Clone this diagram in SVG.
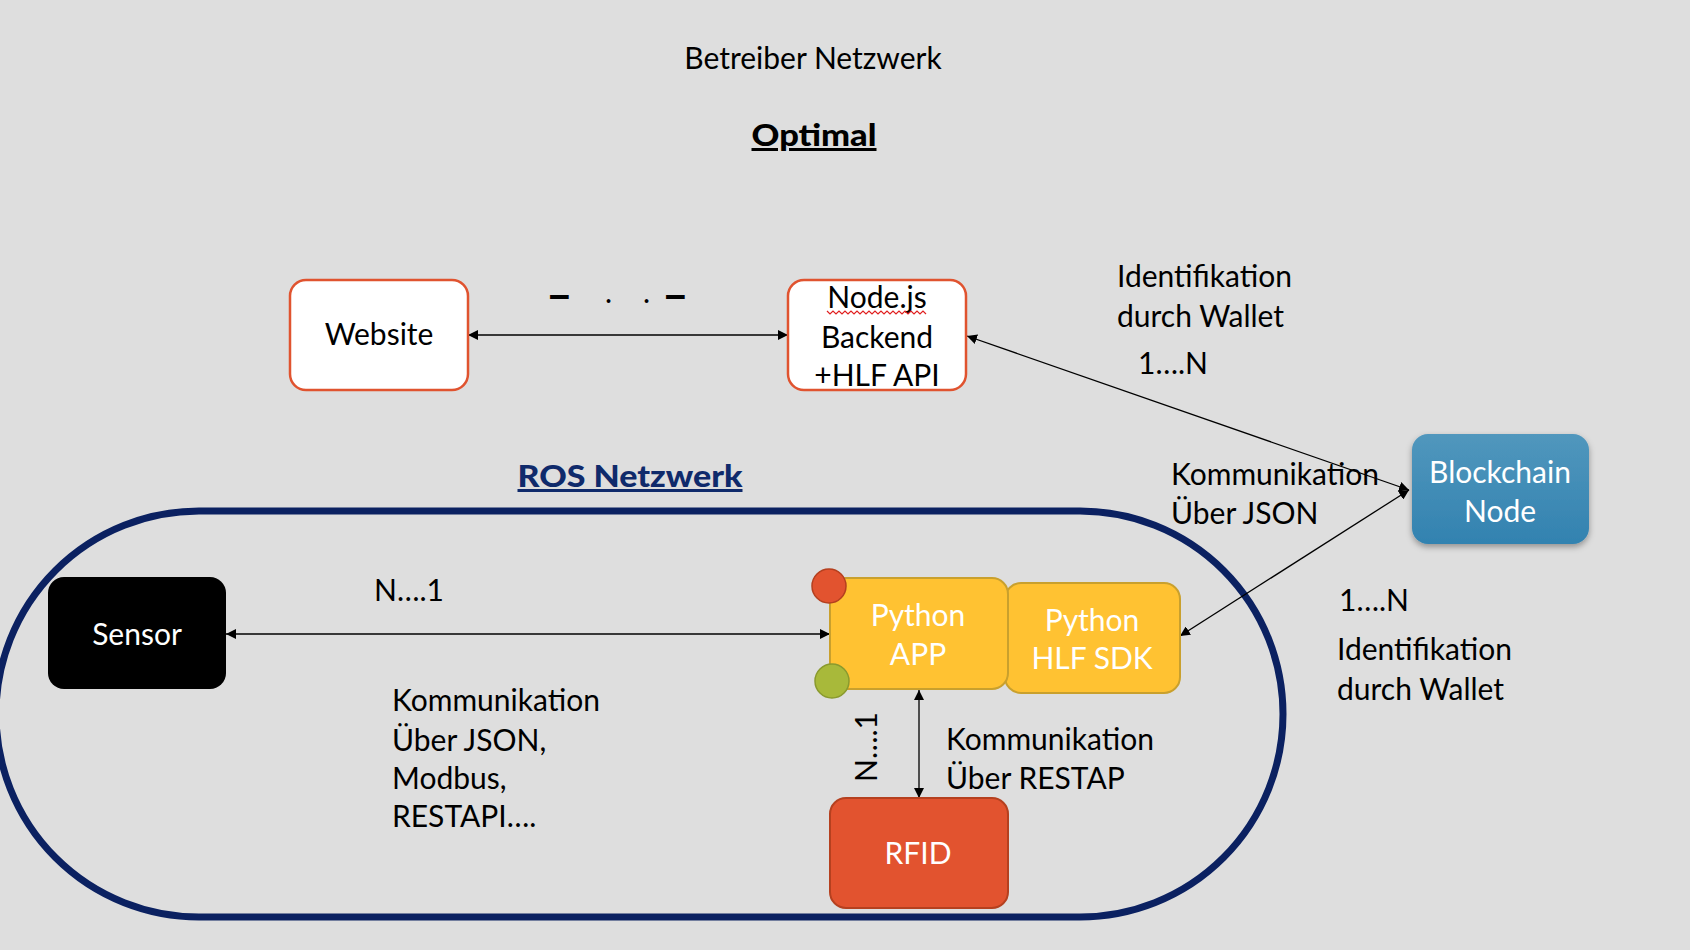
<svg xmlns="http://www.w3.org/2000/svg" width="1690" height="950" viewBox="0 0 1690 950">
<defs>
<style>
text{font-family:Lato,"Liberation Sans",sans-serif;font-size:30px;fill:#000}
.w{fill:#fff}
.c{text-anchor:middle}
.b{font-weight:900}
.conn{stroke:#000;stroke-width:1.3;fill:none}
</style>
<marker id="ah" viewBox="0 0 10 10" refX="10" refY="5" markerWidth="10" markerHeight="10" markerUnits="userSpaceOnUse" orient="auto-start-reverse">
<path d="M0,0 L10,5 L0,10 z" fill="#000"/>
</marker>
<linearGradient id="bg1" x1="0" y1="0" x2="0" y2="1">
<stop offset="0" stop-color="#5197BD"/>
<stop offset="1" stop-color="#3282B0"/>
</linearGradient>
<filter id="sh" x="-20%" y="-20%" width="140%" height="150%">
<feDropShadow dx="0" dy="3" stdDeviation="3" flood-color="#000" flood-opacity="0.35"/>
</filter>
</defs>
<rect width="1690" height="950" fill="#DEDEDE"/>

<g id="titles">
<text class="c" x="813" y="69">Betreiber Netzwerk</text>
<text class="c b" x="814" y="146" textLength="125" lengthAdjust="spacingAndGlyphs" text-decoration="underline">Optimal</text>
</g>

<g id="ros-netzwerk">
<rect x="-4" y="511" width="1287" height="406" rx="203" ry="203" fill="none" stroke="#0B2161" stroke-width="7"/>
<text class="c b" x="630" y="487" style="fill:#0F2A6B" textLength="225" lengthAdjust="spacingAndGlyphs" text-decoration="underline">ROS Netzwerk</text>
</g>

<g id="connectors">
<line class="conn" x1="468" y1="335" x2="788" y2="335" marker-start="url(#ah)" marker-end="url(#ah)"/>
<line class="conn" x1="967" y1="336" x2="1409" y2="490" marker-start="url(#ah)" marker-end="url(#ah)"/>
<line class="conn" x1="1409" y1="490" x2="1180" y2="636" marker-start="url(#ah)" marker-end="url(#ah)"/>
<line class="conn" x1="226" y1="634" x2="830" y2="634" marker-start="url(#ah)" marker-end="url(#ah)"/>
<line class="conn" x1="919" y1="690" x2="919" y2="798" marker-start="url(#ah)" marker-end="url(#ah)"/>
</g>

<g id="labels">
<text style="font-size:46px;font-weight:bold"><tspan x="546" y="311">–</tspan><tspan x="662" y="311">–</tspan></text>
<text><tspan x="605" y="303">.</tspan><tspan x="643" y="303">.</tspan></text>
<text x="1117" y="287">Identifikation</text>
<text x="1117" y="327">durch Wallet</text>
<text x="1138" y="374">1….N</text>
<text x="1171" y="485">Kommunikation</text>
<text x="1171" y="524">Über JSON</text>
<text x="1339" y="611">1….N</text>
<text x="1337" y="660">Identifikation</text>
<text x="1337" y="700">durch Wallet</text>
<text x="374" y="601">N….1</text>
<text x="392" y="711">Kommunikation</text>
<text x="392" y="751">Über JSON,</text>
<text x="392" y="789">Modbus,</text>
<text x="392" y="827">RESTAPI….</text>
<text transform="translate(877,782) rotate(-90)">N….1</text>
<text x="946" y="750">Kommunikation</text>
<text x="946" y="789">Über RESTAP</text>
</g>

<g id="website">
<rect x="290" y="280" width="178" height="110" rx="16" fill="#fff" stroke="#E0532F" stroke-width="2.5"/>
<text class="c" x="379" y="345">Website</text>
</g>

<g id="nodejs-backend">
<rect x="788" y="280" width="178" height="110" rx="16" fill="#fff" stroke="#E0532F" stroke-width="2.5"/>
<text class="c" x="877" y="308">Node.js</text>
<path d="M827,311 l3,3 l3,-3 l3,3 l3,-3 l3,3 l3,-3 l3,3 l3,-3 l3,3 l3,-3 l3,3 l3,-3 l3,3 l3,-3 l3,3 l3,-3 l3,3 l3,-3 l3,3 l3,-3 l3,3 l3,-3 l3,3 l3,-3 l3,3 l3,-3 l3,3 l3,-3 l3,3 l3,-3 l3,3 l3,-3 l3,3" fill="none" stroke="#E02020" stroke-width="1.2"/>
<text class="c" x="877" y="348">Backend</text>
<text class="c" x="877" y="386">+HLF API</text>
</g>

<g id="blockchain-node">
<rect x="1412" y="434" width="177" height="110" rx="16" fill="url(#bg1)" filter="url(#sh)"/>
<text class="c w" x="1500" y="483">Blockchain</text>
<text class="c w" x="1500" y="522">Node</text>
</g>

<g id="sensor">
<rect x="48" y="577" width="178" height="112" rx="16" fill="#000"/>
<text class="c w" x="137" y="645">Sensor</text>
</g>

<g id="python-hlf-sdk">
<rect x="1005" y="583" width="175" height="110" rx="16" fill="#FFC232" stroke="#C9A02D" stroke-width="2"/>
<text class="c w" x="1092" y="631">Python</text>
<text class="c w" x="1092" y="669">HLF SDK</text>
</g>

<g id="python-app">
<rect x="830" y="578" width="178" height="111" rx="16" fill="#FFC232" stroke="#C9A02D" stroke-width="2"/>
<text class="c w" x="918" y="626">Python</text>
<text class="c w" x="918" y="665">APP</text>
<circle cx="829" cy="586" r="17" fill="#E2532F" stroke="#B5401F" stroke-width="1.5"/>
<circle cx="832" cy="681" r="17" fill="#A8B93A" stroke="#8A9A2E" stroke-width="1.5"/>
</g>

<g id="rfid">
<rect x="830" y="798" width="178" height="110" rx="16" fill="#E2532F" stroke="#B5401F" stroke-width="2"/>
<text class="c w" x="918" y="864">RFID</text>
</g>
</svg>
